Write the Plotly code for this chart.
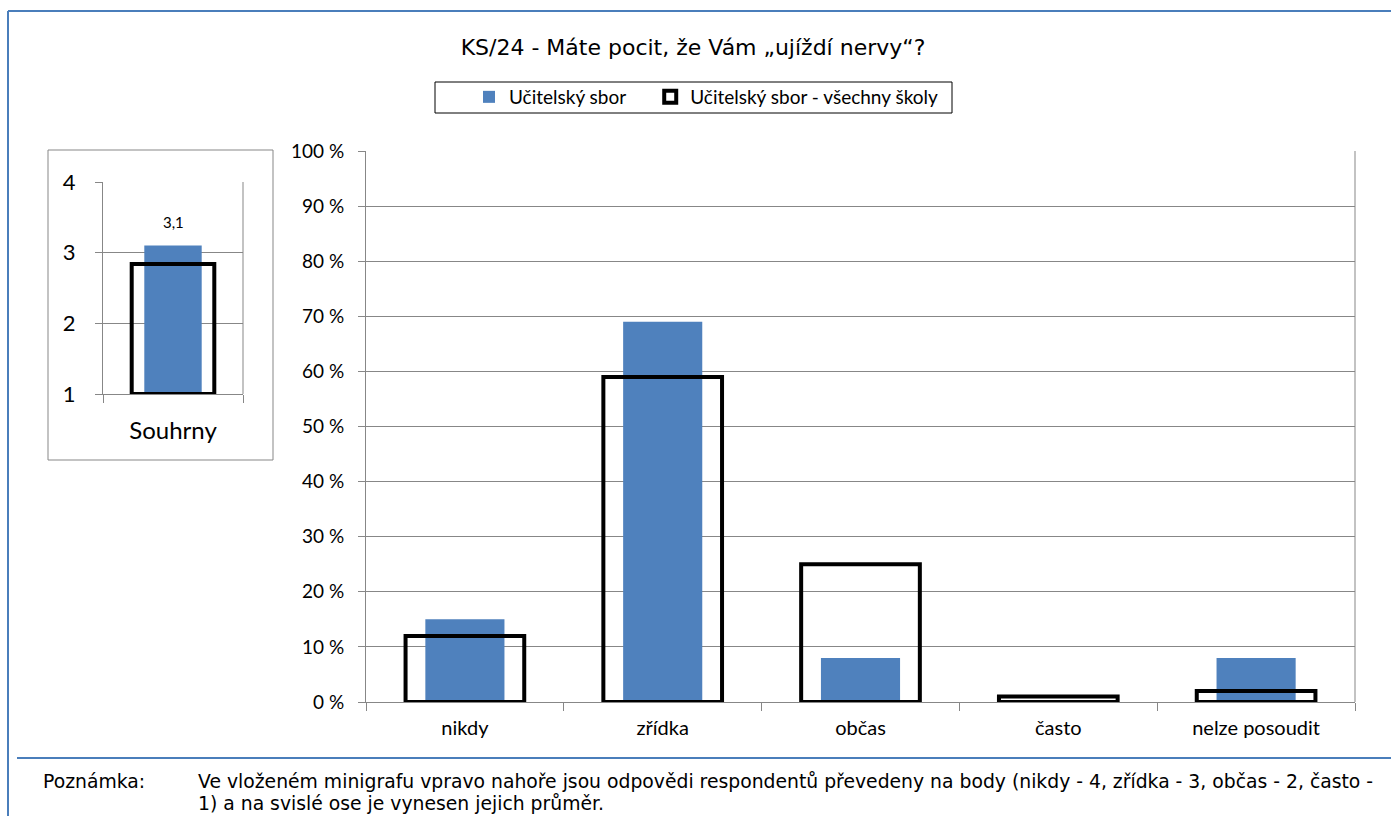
import plotly.graph_objects as go

W, H = 1391, 816

title = "KS/24 - Máte pocit, že Vám „ujíždí nervy“?"
categories = ["nikdy", "zřídka", "občas", "často", "nelze posoudit"]
school_values = [15, 69, 8, 0, 8]
all_schools_values = [12, 59, 25, 1, 2]
series_names = ["Učitelský sbor", "Učitelský sbor - všechny školy"]

mini_category = ["Souhrny"]
mini_school = [3.1]
mini_all = [2.84]
mini_base = 1

y_ticks = list(range(0, 101, 10))
y_tick_text = [f"{v} %" for v in y_ticks]
mini_ticks = [1, 2, 3, 4]

note_label = "Poznámka:"
note_lines = [
    "Ve vloženém minigrafu vpravo nahoře jsou odpovědi respondentů převedeny na body (nikdy - 4, zřídka - 3, občas - 2, často -",
    "1) a na svislé ose je vynesen jejich průměr.",
]

BLUE = "#4f81bd"
GRID = "#878787"
FRAME = "#4a7ebb"
TICKFONT = "Lato, Open Sans, sans-serif"
WIDEFONT = "DejaVu Sans, Liberation Sans, sans-serif"
PAD = "\u00a0" * 4  # visual spacing after the first legend entry


def px(x):
    return x / W


def py(y):
    return 1 - y / H


fig = go.Figure()

# Main chart
fig.add_trace(go.Bar(x=categories, y=school_values, name=series_names[0] + PAD, width=0.4,
                     marker=dict(color=BLUE, line=dict(width=0)), xaxis="x", yaxis="y"))
fig.add_trace(go.Bar(x=categories, y=all_schools_values, name=series_names[1], width=0.6,
                     marker=dict(color="rgba(0,0,0,0)", line=dict(color="black", width=4)),
                     cliponaxis=False, xaxis="x", yaxis="y"))

# Mini chart
fig.add_trace(go.Bar(x=mini_category, y=[v - mini_base for v in mini_school], base=mini_base,
                     width=0.41, marker=dict(color=BLUE, line=dict(width=0)),
                     showlegend=False, xaxis="x2", yaxis="y2"))
fig.add_trace(go.Bar(x=mini_category, y=[v - mini_base for v in mini_all], base=mini_base,
                     width=0.59, marker=dict(color="rgba(0,0,0,0)", line=dict(color="black", width=4)),
                     cliponaxis=False, showlegend=False, xaxis="x2", yaxis="y2"))

NOTE_SIZE = 18.8
annotations = [
    dict(x=mini_category[0], y=mini_school[0], xref="x2", yref="y2",
         text=f"{mini_school[0]:.1f}".replace(".", ","), showarrow=False,
         yshift=24, font=dict(family=TICKFONT, size=15, color="black")),
    dict(x=px(41), y=py(781), xref="paper", yref="paper", xanchor="left", yanchor="middle",
         text=note_label, showarrow=False, font=dict(family=WIDEFONT, size=NOTE_SIZE, color="black")),
    dict(x=px(196), y=py(781), xref="paper", yref="paper", xanchor="left", yanchor="middle",
         text=note_lines[0], showarrow=False, font=dict(family=WIDEFONT, size=NOTE_SIZE, color="black")),
    dict(x=px(196), y=py(803), xref="paper", yref="paper", xanchor="left", yanchor="middle",
         text=note_lines[1], showarrow=False, font=dict(family=WIDEFONT, size=NOTE_SIZE, color="black")),
]

shapes = [
    # blue frame
    dict(type="line", xref="paper", yref="paper", x0=px(8), x1=1, y0=py(11), y1=py(11),
         line=dict(color=FRAME, width=2)),
    dict(type="line", xref="paper", yref="paper", x0=px(8), x1=px(8), y0=py(11), y1=0,
         line=dict(color=FRAME, width=2)),
    dict(type="line", xref="paper", yref="paper", x0=px(17), x1=1, y0=py(758), y1=py(758),
         line=dict(color=FRAME, width=2)),
    # legend box
    dict(type="rect", xref="paper", yref="paper", x0=px(435), x1=px(952), y0=py(113), y1=py(82),
         line=dict(color="black", width=1)),
    # mini box
    dict(type="rect", xref="paper", yref="paper", x0=px(48), x1=px(273), y0=py(460), y1=py(150),
         line=dict(color=GRID, width=1)),
    # right edges
    dict(type="line", xref="x domain", yref="y domain", x0=1, x1=1, y0=0, y1=1,
         line=dict(color=GRID, width=1)),
    dict(type="line", xref="x2 domain", yref="y2 domain", x0=1, x1=1, y0=0, y1=1,
         line=dict(color=GRID, width=1)),
]

fig.update_layout(
    width=W, height=H,
    margin=dict(l=0, r=0, t=0, b=0, autoexpand=False),
    paper_bgcolor="white", plot_bgcolor="white",
    barmode="overlay",
    separators=", ",
    title=dict(text=title, x=px(693), y=py(47), xanchor="center", yanchor="middle",
               font=dict(family=WIDEFONT, size=22, color="black")),
    legend=dict(orientation="h", x=px(469), y=py(97), xanchor="left", yanchor="middle",
                borderwidth=0, bgcolor="rgba(0,0,0,0)",
                font=dict(family=TICKFONT, size=19, color="black"),
                itemwidth=30, traceorder="normal"),
    xaxis=dict(domain=[px(366), px(1355)], anchor="y", showline=True, linecolor=GRID,
               ticks="outside", tickson="boundaries", ticklen=8, tickcolor=GRID,
               ticklabelstandoff=8, automargin=False,
               tickfont=dict(family=TICKFONT, size=20, color="black"), showgrid=False),
    yaxis=dict(domain=[py(702), py(151)], anchor="x", range=[0, 100], tickvals=y_ticks,
               ticktext=y_tick_text, showline=True, linecolor=GRID, ticks="outside", ticklen=7,
               tickcolor=GRID, showgrid=True, gridcolor=GRID, zeroline=False,
               ticklabelstandoff=10, automargin=False,
               tickfont=dict(family=TICKFONT, size=19, color="black")),
    xaxis2=dict(domain=[px(103), px(243)], anchor="y2", showline=True, linecolor=GRID,
                ticks="outside", tickson="boundaries", ticklen=8, tickcolor=GRID,
                ticklabelstandoff=15, automargin=False,
                tickfont=dict(family=TICKFONT, size=24, color="black"), showgrid=False),
    yaxis2=dict(domain=[py(394), py(182)], anchor="x2", range=[1, 4], tickvals=mini_ticks,
                showline=True, linecolor=GRID, ticks="outside", ticklen=7, tickcolor=GRID,
                showgrid=True, gridcolor=GRID, zeroline=False, ticklabelstandoff=15,
                automargin=False,
                tickfont=dict(family=TICKFONT, size=22, color="black")),
    annotations=annotations,
    shapes=shapes,
)

fig.write_html("out.html", config={"displayModeBar": False},
               post_script="document.body.style.margin='0';document.body.style.overflow='hidden';")
